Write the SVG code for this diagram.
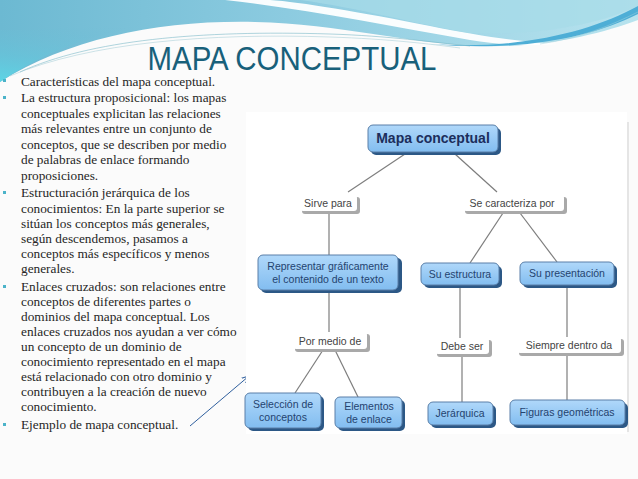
<svg xmlns="http://www.w3.org/2000/svg" width="638" height="479" viewBox="0 0 638 479">
<defs>
<linearGradient id="gTop" x1="0" y1="0" x2="1" y2="0">
<stop offset="0" stop-color="#6cb9d2"/>
<stop offset="0.45" stop-color="#8ccbe0"/>
<stop offset="1" stop-color="#b8e3ee"/>
</linearGradient>
<linearGradient id="gLeft" x1="0.4" y1="0" x2="0" y2="1">
<stop offset="0" stop-color="#6fbcd4" stop-opacity="0"/>
<stop offset="0.6" stop-color="#62c9de" stop-opacity="0.5"/>
<stop offset="1" stop-color="#5cd6e6" stop-opacity="1"/>
</linearGradient>
<linearGradient id="gNode" x1="0" y1="0" x2="0" y2="1">
<stop offset="0" stop-color="#b0d8fa"/>
<stop offset="1" stop-color="#82bdf0"/>
</linearGradient>
<marker id="arr" viewBox="0 0 10 10" refX="9" refY="5" markerWidth="8" markerHeight="8" orient="auto-start-reverse" markerUnits="userSpaceOnUse">
<path d="M0,1 L9,5 L0,9" fill="none" stroke="#2f5f9e" stroke-width="1.2"/>
</marker>
</defs>
<style>
.body{font-family:"Liberation Serif","DejaVu Serif",serif;font-size:13.3px;fill:#262626}
.title{font-family:"Liberation Sans",Arial,sans-serif;font-size:34px;fill:#18607a}
.bul{fill:#4bb3c9}
.node rect.sh{fill:#2c5886}
.node rect.bx{fill:url(#gNode);stroke:#5a7fa8;stroke-width:1}
.node text{font-family:"Liberation Sans",Arial,sans-serif;font-size:10.5px;fill:#24436f;text-anchor:middle}
.lab rect.sh{fill:#a9a9a9}
.lab rect.bx{fill:#ffffff}
.lab text{font-family:"Liberation Sans",Arial,sans-serif;font-size:10.5px;fill:#444;text-anchor:middle}
.conn line{stroke:#7d7d7d;stroke-width:1.2}
</style>
<rect width="638" height="479" fill="#fbfbfb"/>
<!-- header waves -->
<path d="M0,0 H638 V20 C600,34 545,48 480,46 C410,44 340,24 255,22 C160,20 70,38 0,82 Z" fill="url(#gTop)"/>
<path d="M0,30 C60,30 120,24 200,22 C120,24 60,42 0,82 Z" fill="url(#gLeft)"/>
<path d="M225,0 C300,8 390,26 470,40 C500,45 530,46 560,44 C520,42 480,36 430,26 C360,12 300,2 270,0 Z" fill="#ffffff" opacity="0.95"/>
<path d="M300,0 H638 V6 C600,24 540,36 470,33 C420,25 360,8 300,0 Z" fill="#a6dbe8" opacity="0.7"/>
<path d="M430,44 C520,50 590,32 638,6 V14 C590,38 520,52 430,44 Z" fill="#4eaed6"/>
<path d="M20,72 C90,40 200,30 330,34 C390,36 430,42 470,46" fill="none" stroke="#7ab8c8" stroke-width="0.6"/>
<path d="M10,76 C90,42 210,33 330,37 C390,39 430,44 460,48" fill="none" stroke="#9cc8d2" stroke-width="0.5"/>
<path d="M540,44 C580,38 610,26 638,12" fill="none" stroke="#9fd0dc" stroke-width="0.5"/>
<!-- title -->
<text class="title" x="292" y="70" text-anchor="middle" textLength="289" lengthAdjust="spacingAndGlyphs">MAPA CONCEPTUAL</text>
<!-- bullets -->
<g id="bullets">
<rect class="bul" x="3" y="79" width="3" height="3"/>
<rect class="bul" x="3" y="96" width="3" height="3"/>
<rect class="bul" x="3" y="191" width="3" height="3"/>
<rect class="bul" x="3" y="285" width="3" height="3"/>
<rect class="bul" x="3" y="423" width="3" height="3"/>
</g>
<g id="text-body" class="body">
<text x="21" y="85.5">Características del mapa conceptual.</text>
<text x="21" y="102">La estructura proposicional: los mapas</text>
<text x="21" y="117.5">conceptuales explicitan las relaciones</text>
<text x="21" y="133">más relevantes entre un conjunto de</text>
<text x="21" y="148.5">conceptos, que se describen por medio</text>
<text x="21" y="164">de palabras de enlace formando</text>
<text x="21" y="179.5">proposiciones.</text>
<text x="21" y="197">Estructuración jerárquica de los</text>
<text x="21" y="212.5">conocimientos: En la parte superior se</text>
<text x="21" y="228">sitúan los conceptos más generales,</text>
<text x="21" y="243">según descendemos, pasamos a</text>
<text x="21" y="258">conceptos más específicos y menos</text>
<text x="21" y="273">generales.</text>
<text x="21" y="291">Enlaces cruzados: son relaciones entre</text>
<text x="21" y="306">conceptos de diferentes partes o</text>
<text x="21" y="321">dominios del mapa conceptual. Los</text>
<text x="21" y="336">enlaces cruzados nos ayudan a ver cómo</text>
<text x="21" y="351">un concepto de un dominio de</text>
<text x="21" y="366">conocimiento representado en el mapa</text>
<text x="21" y="381">está relacionado con otro dominio y</text>
<text x="21" y="396">contribuyen a la creación de nuevo</text>
<text x="21" y="411">conocimiento.</text>
<text x="21" y="429">Ejemplo de mapa conceptual.</text>
</g>
<!-- pointer arrow -->
<g id="pointer">
<line x1="190" y1="426" x2="249" y2="376" stroke="#2f5f9e" stroke-width="1" marker-end="url(#arr)"/>
</g>
<!-- diagram frame -->
<rect x="246" y="112" width="381" height="322" fill="#ffffff"/>
<line x1="628" y1="122" x2="628" y2="432" stroke="#cfcfcf" stroke-width="1"/>
<!-- connectors -->
<g id="connectors" class="conn">
<line x1="405" y1="154" x2="348" y2="192"/>
<line x1="455" y1="154" x2="497" y2="192"/>
<line x1="329" y1="212" x2="329" y2="255"/>
<line x1="503" y1="213" x2="470" y2="263"/>
<line x1="520" y1="213" x2="557" y2="262"/>
<line x1="329" y1="292" x2="329" y2="332"/>
<line x1="323" y1="350" x2="295" y2="393"/>
<line x1="335" y1="350" x2="358" y2="397"/>
<line x1="460" y1="287" x2="460" y2="338"/>
<line x1="462" y1="356" x2="462" y2="402"/>
<line x1="567" y1="287" x2="567" y2="337"/>
<line x1="567" y1="356" x2="567" y2="400"/>
</g>
<!-- nodes -->
<g id="n-mapa" class="node">
<rect class="sh" x="371" y="128" width="130" height="27" rx="5"/>
<rect class="bx" x="368" y="125" width="130" height="27" rx="5"/>
<text x="433" y="143" style="font-size:14px;font-weight:bold;fill:#1c2e5c">Mapa conceptual</text>
</g>
<g id="n-sirve" class="lab">
<rect class="sh" x="302" y="197" width="58" height="17" rx="3"/>
<rect class="bx" x="300" y="195" width="57" height="16" rx="3"/>
<text x="328" y="207">Sirve para</text>
</g>
<g id="n-secar" class="lab">
<rect class="sh" x="465" y="197" width="102" height="17" rx="3"/>
<rect class="bx" x="463" y="195" width="101" height="16" rx="3"/>
<text x="512" y="207">Se caracteriza por</text>
</g>
<g id="n-repr" class="node">
<rect class="sh" x="261" y="258" width="141" height="35" rx="5"/>
<rect class="bx" x="258" y="255" width="140" height="35" rx="5"/>
<text x="328" y="270">Representar gráficamente</text>
<text x="328" y="283">el contenido de un texto</text>
</g>
<g id="n-suest" class="node">
<rect class="sh" x="424" y="266" width="78" height="22" rx="5"/>
<rect class="bx" x="421" y="263" width="78" height="22" rx="5"/>
<text x="460" y="278">Su estructura</text>
</g>
<g id="n-supres" class="node">
<rect class="sh" x="523" y="265" width="94" height="23" rx="5"/>
<rect class="bx" x="520" y="262" width="94" height="23" rx="5"/>
<text x="567" y="277">Su presentación</text>
</g>
<g id="n-pormedio" class="lab">
<rect class="sh" x="295" y="334" width="75" height="18" rx="3"/>
<rect class="bx" x="293" y="332" width="74" height="17" rx="3"/>
<text x="330" y="345">Por medio de</text>
</g>
<g id="n-debeser" class="lab">
<rect class="sh" x="437" y="340" width="55" height="17" rx="3"/>
<rect class="bx" x="435" y="338" width="54" height="16" rx="3"/>
<text x="462" y="350">Debe ser</text>
</g>
<g id="n-siempre" class="lab">
<rect class="sh" x="519" y="339" width="105" height="17" rx="3"/>
<rect class="bx" x="517" y="337" width="104" height="16" rx="3"/>
<text x="569" y="349">Siempre dentro da</text>
</g>
<g id="n-seleccion" class="node">
<rect class="sh" x="248" y="396" width="76" height="35" rx="5"/>
<rect class="bx" x="245" y="393" width="76" height="35" rx="5"/>
<text x="283" y="408">Selección de</text>
<text x="283" y="421">conceptos</text>
</g>
<g id="n-elementos" class="node">
<rect class="sh" x="338" y="400" width="67" height="31" rx="5"/>
<rect class="bx" x="335" y="397" width="67" height="31" rx="5"/>
<text x="369" y="410">Elementos</text>
<text x="369" y="423">de enlace</text>
</g>
<g id="n-jerarquica" class="node">
<rect class="sh" x="431" y="405" width="65" height="23" rx="5"/>
<rect class="bx" x="428" y="402" width="65" height="23" rx="5"/>
<text x="460" y="417">Jerárquica</text>
</g>
<g id="n-figuras" class="node">
<rect class="sh" x="513" y="403" width="115" height="25" rx="5"/>
<rect class="bx" x="510" y="400" width="115" height="25" rx="5"/>
<text x="567" y="416">Figuras geométricas</text>
</g>
</svg>
